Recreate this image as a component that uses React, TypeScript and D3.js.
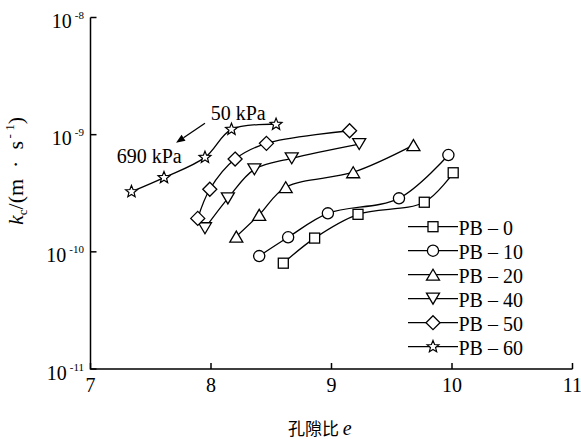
import React from "react";
import * as d3 from "d3";

const W = 581;
const H = 439;

const xTicks = [7, 8, 9, 10, 11];
const yExps = [-8, -9, -10, -11];

const seriesNames = ["PB – 0", "PB – 10", "PB – 20", "PB – 40", "PB – 50", "PB – 60"];
const markerTypes = ["square", "circle", "triUp", "triDown", "diamond", "star"];

const ePB0 = [8.6, 8.86, 9.22, 9.77, 10.01];
const kPB0 = [8.0e-11, 1.31e-10, 2.09e-10, 2.65e-10, 4.73e-10];
const ePB10 = [8.4, 8.64, 8.97, 9.56, 9.97];
const kPB10 = [9.2e-11, 1.33e-10, 2.13e-10, 2.86e-10, 6.7e-10];
const ePB20 = [8.21, 8.4, 8.62, 9.18, 9.68];
const kPB20 = [1.35e-10, 2.07e-10, 3.56e-10, 4.78e-10, 8.15e-10];
const ePB40 = [7.95, 8.14, 8.36, 8.67, 9.23];
const kPB40 = [1.59e-10, 2.86e-10, 5.06e-10, 6.28e-10, 8.32e-10];
const ePB50 = [7.89, 7.99, 8.2, 8.46, 9.15];
const kPB50 = [1.93e-10, 3.42e-10, 6.19e-10, 8.43e-10, 1.08e-9];
const ePB60 = [7.34, 7.61, 7.95, 8.17, 8.54];
const kPB60 = [3.26e-10, 4.3e-10, 6.4e-10, 1.11e-9, 1.225e-9];

const eSeries = [ePB0, ePB10, ePB20, ePB40, ePB50, ePB60];
const kSeries = [kPB0, kPB10, kPB20, kPB40, kPB50, kPB60];

// annotation arrow (data coords): from 50 kPa end toward 690 kPa end
const arrowE = [7.95, 7.71];
const arrowK = [1.25e-9, 8.53e-10];

const FONT = "'Liberation Serif', 'Times New Roman', serif";

function Marker({ type, x, y }: { type: string; x: number; y: number }) {
  const common = { fill: "#fff", stroke: "#000", strokeWidth: 1.3 };
  if (type === "square") {
    const s = 10;
    return <rect x={x - s / 2} y={y - s / 2} width={s} height={s} {...common} />;
  }
  if (type === "circle") {
    return <circle cx={x} cy={y} r={5.6} {...common} />;
  }
  if (type === "triUp") {
    const w = 13, h = 11;
    return (
      <polygon
        points={`${x - w / 2},${y + h / 2} ${x + w / 2},${y + h / 2} ${x},${y - h / 2}`}
        {...common}
      />
    );
  }
  if (type === "triDown") {
    const w = 13, h = 11;
    return (
      <polygon
        points={`${x - w / 2},${y - h / 2} ${x + w / 2},${y - h / 2} ${x},${y + h / 2}`}
        {...common}
      />
    );
  }
  if (type === "diamond") {
    const r = 7;
    return (
      <polygon points={`${x},${y - r} ${x + r},${y} ${x},${y + r} ${x - r},${y}`} {...common} />
    );
  }
  const pts: string[] = [];
  const ro = 6.2, ri = 2.7;
  for (let i = 0; i < 10; i++) {
    const a = -Math.PI / 2 + (i * Math.PI) / 5;
    const r = i % 2 === 0 ? ro : ri;
    pts.push(`${x + r * Math.cos(a)},${y + r * Math.sin(a)}`);
  }
  return <polygon points={pts.join(" ")} {...common} strokeWidth={1.2} />;
}

export default function App() {
  const x = d3.scaleLinear().domain([7, 11]).range([90.5, 572.5]);
  const y = d3.scaleLog().domain([1e-11, 1e-8]).range([369, 17.5]);
  const line = d3
    .line<[number, number]>()
    .x((d) => x(d[0]))
    .y((d) => y(d[1]))
    .curve(d3.curveCatmullRom.alpha(0.5));

  const x0 = x(7);
  const y0 = y(1e-11);

  const legendX = 408;
  const legendY0 = 226.7;
  const legendDy = 24;

  const ax0 = x(arrowE[0]), ay0 = y(arrowK[0]);
  const ax1 = x(arrowE[1]), ay1 = y(arrowK[1]);
  const ang = Math.atan2(ay1 - ay0, ax1 - ax0);
  const ahL = 9, ahW = 3.5;
  const bx = ax1 - ahL * Math.cos(ang), by = ay1 - ahL * Math.sin(ang);
  const px = -Math.sin(ang) * ahW, py = Math.cos(ang) * ahW;

  return (
    <svg
      width={W}
      height={H}
      style={{ position: "absolute", left: 0, top: 0, background: "#fff" }}
      fontFamily={FONT}
    >
      <rect x={0} y={0} width={W} height={H} fill="#fff" />
      <path
        d={`M${x0},${y(1e-8)} L${x0},${y0} L${x(11)},${y0}`}
        fill="none"
        stroke="#000"
        strokeWidth={1.5}
      />
      {xTicks.map((t) => (
        <g key={"xt" + t}>
          <line x1={x(t)} x2={x(t)} y1={y0} y2={y0 - 6} stroke="#000" strokeWidth={1.5} />
          <text x={x(t)} y={y0 + 23} fontSize={20} textAnchor="middle">
            {t}
          </text>
        </g>
      ))}
      {yExps.map((p) => {
        const yy = y(Math.pow(10, p));
        return (
          <g key={"yt" + p}>
            <line x1={x0} x2={x0 + 6} y1={yy} y2={yy} stroke="#000" strokeWidth={1.5} />
            <text x={84} y={yy + 10.5} fontSize={20} textAnchor="end">
              10
              <tspan dx={3} dy={-9} fontSize={11}>
                {"-" + String(-p)}
              </tspan>
            </text>
          </g>
        );
      })}

      <text transform={`translate(23,171) rotate(-90)`} fontSize={22} textAnchor="middle">
        <tspan fontStyle="italic">k</tspan>
        <tspan fontSize={13} dy={4}>c</tspan>
        <tspan dy={-4}>{"/(m\u2002·\u2002s"}</tspan>
        <tspan fontSize={13} dy={-9}>{"\u2009- 1"}</tspan>
        <tspan dy={9}>)</tspan>
      </text>

      <text x={288} y={435} fontSize={17}>
        <tspan fontFamily="'Noto Sans CJK SC', sans-serif">孔隙比 </tspan>
        <tspan fontStyle="italic" fontSize={20} fontFamily={FONT}>
          e
        </tspan>
      </text>

      {eSeries.map((es, si) => {
        const pts: [number, number][] = es.map((e, i) => [e, kSeries[si][i]]);
        return (
          <g key={"s" + si}>
            <path d={line(pts) || ""} fill="none" stroke="#000" strokeWidth={1.3} />
            {pts.map((p, i) => (
              <Marker key={i} type={markerTypes[si]} x={x(p[0])} y={y(p[1])} />
            ))}
          </g>
        );
      })}

      <line x1={ax0} y1={ay0} x2={bx} y2={by} stroke="#000" strokeWidth={1.3} />
      <polygon
        points={`${ax1},${ay1} ${bx + px},${by + py} ${bx - px},${by - py}`}
        fill="#000"
      />
      <text x={210.7} y={120} fontSize={20}>
        50 kPa
      </text>
      <text x={116.7} y={163} fontSize={20}>
        690 kPa
      </text>

      {seriesNames.map((n, i) => {
        const yy = legendY0 + i * legendDy;
        return (
          <g key={"lg" + i}>
            <line x1={legendX} x2={legendX + 50} y1={yy} y2={yy} stroke="#000" strokeWidth={1.3} />
            <Marker type={markerTypes[i]} x={legendX + 25} y={yy} />
            <text x={legendX + 50.5} y={yy + 8} fontSize={20}>
              {n}
            </text>
          </g>
        );
      })}
    </svg>
  );
}
